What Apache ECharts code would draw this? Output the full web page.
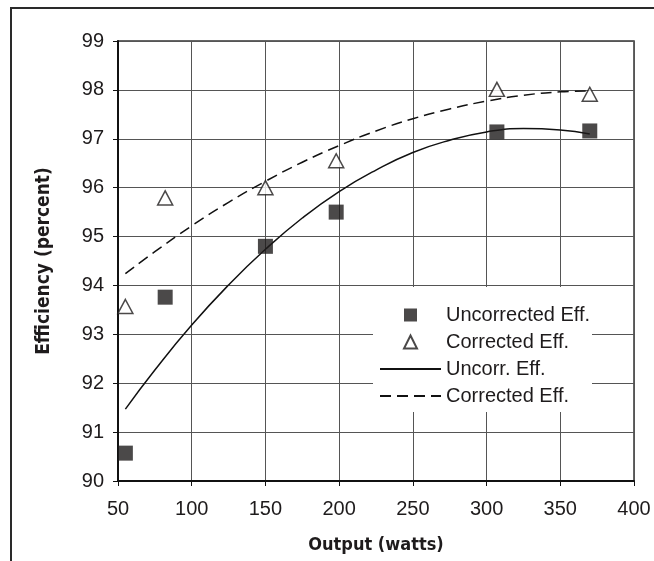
<!DOCTYPE html>
<html>
<head>
<meta charset="utf-8">
<title>Efficiency vs Output</title>
<script src="https://cdn.jsdelivr.net/npm/echarts@6/dist/echarts.min.js"></script>
<style>
  html, body { margin: 0; padding: 0; background: #ffffff; }
  #chart { width: 654px; height: 561px; }
</style>
</head>
<body>
<div id="chart"></div>
<script>
// Measured efficiency at each output level
const wattsMeasured = [55, 82, 150, 198, 307, 370];
const uncorrectedEff = [90.57, 93.76, 94.80, 95.50, 97.14, 97.16];
const correctedEff = [93.57, 95.79, 96.00, 96.55, 98.01, 97.91];

// Trend curves sampled along the output range
const fitWatts = [55, 75, 100, 125, 150, 175, 200, 225, 250, 275, 300, 325, 350, 370];
const uncorrFit = [91.47, 92.27, 93.19, 94.01, 94.74, 95.38, 95.92, 96.36, 96.72, 96.97, 97.14, 97.21, 97.18, 97.10];
const corrFit = [94.24, 94.69, 95.22, 95.70, 96.13, 96.52, 96.86, 97.16, 97.41, 97.61, 97.77, 97.89, 97.96, 97.98];

// Axis ticks
const xTicks = { min: 50, max: 400, step: 50 };
const yTicks = { min: 90, max: 99, step: 1 };

const legendNames = ['Uncorrected Eff.', 'Corrected Eff.', 'Uncorr. Eff.', 'Corrected Eff. '];

const ink = '#1e1b1c';
const labelFont = '"Liberation Sans", Arial, sans-serif';
const titleFont = '"Liberation Sans Narrow", "DejaVu Sans Condensed", "Liberation Sans", sans-serif';

const pairs = (xs, ys) => xs.map((x, i) => [x, ys[i]]);

const legendText = { fontFamily: labelFont, fontSize: 20, lineHeight: 20, color: ink };

const chart = echarts.init(document.getElementById('chart'), null, { renderer: 'canvas' });

chart.setOption({
  animation: false,
  backgroundColor: '#ffffff',
  grid: {
    left: 118, right: 20, top: 41, bottom: 80,
    show: true, borderColor: '#333333', borderWidth: 1.5
  },
  xAxis: {
    type: 'value',
    min: xTicks.min, max: xTicks.max, interval: xTicks.step,
    name: 'Output (watts)',
    nameLocation: 'middle',
    nameGap: 55,
    nameTextStyle: { fontFamily: titleFont, fontWeight: 'bold', fontSize: 18, color: ink },
    axisLine: { show: true, onZero: false, lineStyle: { color: '#111111', width: 2 } },
    axisTick: { show: true, inside: false, length: 5, lineStyle: { color: '#111111', width: 1 } },
    axisLabel: { margin: 18, fontFamily: labelFont, fontSize: 20, color: ink },
    splitLine: { show: true, lineStyle: { color: '#555555', width: 1 } }
  },
  yAxis: {
    type: 'value',
    min: yTicks.min, max: yTicks.max, interval: yTicks.step,
    name: 'Efficiency (percent)',
    nameLocation: 'middle',
    nameGap: 64,
    nameTextStyle: { fontFamily: titleFont, fontWeight: 'bold', fontSize: 19, color: ink },
    axisLine: { show: true, onZero: false, lineStyle: { color: '#111111', width: 2 } },
    axisTick: { show: true, inside: false, length: 5, lineStyle: { color: '#111111', width: 1 } },
    axisLabel: { margin: 14, fontFamily: labelFont, fontSize: 20, color: ink },
    splitLine: { show: true, lineStyle: { color: '#555555', width: 1 } }
  },
  legend: [
    {
      // marker entries
      orient: 'vertical',
      left: 403, top: 305,
      padding: 0,
      itemWidth: 13, itemHeight: 13, itemGap: 7,
      selectedMode: false,
      textStyle: Object.assign({ padding: [0, 0, 0, 24] }, legendText),
      data: [legendNames[0], legendNames[1]]
    },
    {
      // trend line entries
      orient: 'vertical',
      left: 379, top: 359,
      padding: 0,
      itemWidth: 61, itemHeight: 13, itemGap: 7,
      selectedMode: false,
      textStyle: legendText,
      data: [
        { name: legendNames[2], itemStyle: { opacity: 0 } },
        { name: legendNames[3], itemStyle: { opacity: 0 } }
      ]
    }
  ],
  graphic: [
    {
      type: 'polyline',
      silent: true,
      shape: { points: [[11, 561], [11, 8], [654, 8]] },
      style: { stroke: '#2a2a2a', lineWidth: 2, fill: null }
    },
    {
      // blank panel behind the legend
      type: 'rect',
      silent: true,
      z: 1,
      shape: { x: 373, y: 287, width: 219, height: 125 },
      style: { fill: '#ffffff' }
    }
  ],
  series: [
    {
      name: legendNames[2],
      type: 'line',
      data: pairs(fitWatts, uncorrFit),
      smooth: true,
      symbol: 'none',
      z: 3,
      lineStyle: { color: '#111111', width: 1.5, type: 'solid' }
    },
    {
      name: legendNames[3],
      type: 'line',
      data: pairs(fitWatts, corrFit),
      smooth: true,
      symbol: 'none',
      z: 3,
      lineStyle: { color: '#111111', width: 1.5, type: [11, 6] }
    },
    {
      name: legendNames[0],
      type: 'scatter',
      data: pairs(wattsMeasured, uncorrectedEff),
      symbol: 'rect',
      symbolSize: 15,
      z: 4,
      itemStyle: { color: ink }
    },
    {
      name: legendNames[1],
      type: 'scatter',
      data: pairs(wattsMeasured, correctedEff),
      symbol: 'triangle',
      symbolSize: [15, 14],
      z: 4,
      itemStyle: { color: '#ffffff', borderColor: ink, borderWidth: 1.5 }
    }
  ]
});
</script>
</body>
</html>
